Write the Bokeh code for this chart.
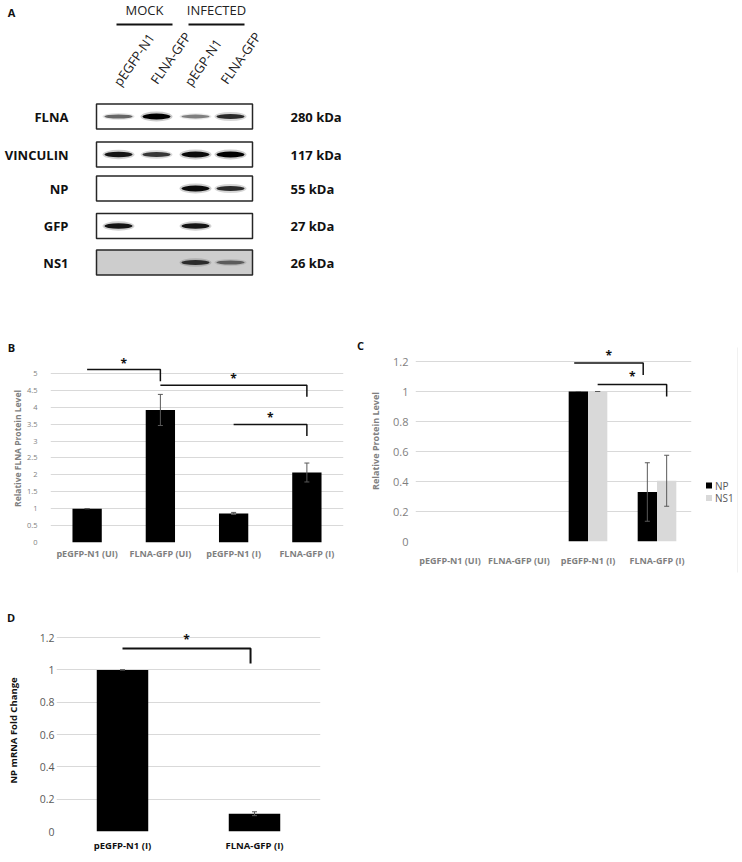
from bokeh.plotting import figure
from bokeh.models import (FactorRange, Range1d, FixedTicker, CustomJSTickFormatter,
                          ColumnDataSource)
from bokeh.transform import dodge
from bokeh.layouts import column, row
from bokeh.embed import file_html
from bokeh.resources import INLINE
from bokeh.core.properties import value

FONT = "Open Sans"

# ---------------- data ----------------
# Panel A (western blot)
groups = ["MOCK", "INFECTED"]
lanes = ["pEGFP-N1", "FLNA-GFP", "pEGP-N1", "FLNA-GFP"]
proteins = ["FLNA", "VINCULIN", "NP", "GFP", "NS1"]
weights = ["280 kDa", "117 kDa", "55 kDa", "27 kDa", "26 kDa"]
band_flna = [0.55, 1.0, 0.45, 0.8]
band_vinculin = [0.9, 0.75, 0.95, 1.0]
band_np = [0.0, 0.0, 0.95, 0.8]
band_gfp = [0.9, 0.0, 0.9, 0.0]
band_ns1 = [0.0, 0.0, 0.75, 0.5]

# Panel B
cats_b = ["pEGFP-N1 (UI)", "FLNA-GFP (UI)", "pEGFP-N1 (I)", "FLNA-GFP (I)"]
flna_level = [1.0, 3.92, 0.86, 2.07]
flna_err = [0.0, 0.46, 0.03, 0.28]
ticks_b = [0, 0.5, 1, 1.5, 2, 2.5, 3, 3.5, 4, 4.5, 5]

# Panel C
cats_c = ["pEGFP-N1 (UI)", "FLNA-GFP (UI)", "pEGFP-N1 (I)", "FLNA-GFP (I)"]
series_c = ["NP", "NS1"]
series_c_colors = ["black", "#d9d9d9"]
np_level = [0.0, 0.0, 1.0, 0.33]
np_err = [0.0, 0.0, 0.0, 0.195]
ns1_level = [0.0, 0.0, 1.0, 0.405]
ns1_err = [0.0, 0.0, 0.0, 0.17]
ticks_c = [0, 0.2, 0.4, 0.6, 0.8, 1, 1.2]

# Panel D
cats_d = ["pEGFP-N1 (I)", "FLNA-GFP (I)"]
mrna_fold = [1.0, 0.11]
mrna_err = [0.0, 0.012]
ticks_d = [0, 0.2, 0.4, 0.6, 0.8, 1, 1.2]

# ---------------- helpers ----------------
GRAY = "#7f7f7f"
GRID = "#d9d9d9"
INK = "#111111"
fmt = CustomJSTickFormatter(code="return String(Math.round(tick*10)/10)")


def canvas_fig(x0, x1, y0, y1):
    p = figure(x_range=Range1d(x0, x1), y_range=Range1d(y1, y0),
               frame_width=x1 - x0, frame_height=y1 - y0,
               min_border=0, min_border_left=0, min_border_right=0,
               min_border_top=0, min_border_bottom=0,
               x_axis_location=None, y_axis_location=None,
               toolbar_location=None, output_backend="svg")
    p.xgrid.grid_line_color = None
    p.ygrid.grid_line_color = None
    p.outline_line_color = None
    return p


def letter(p, txt, x, y):
    p.text(x=[x], y=[y], text=[txt], text_font=value(FONT), text_font_size="11px",
           text_font_style="bold", text_align="center", text_baseline="middle", text_color=INK)


def style_chart(p, ticks, ytick_size, ytick_color, ystand, ylab, ylab_size, ylab_color,
                ylab_stand, xlab_size, xlab_color, xstand):
    p.outline_line_color = None
    p.xgrid.grid_line_color = None
    p.ygrid.grid_line_color = GRID
    p.ygrid.grid_line_width = 1
    p.yaxis.ticker = FixedTicker(ticks=ticks)
    p.yaxis.formatter = fmt
    for ax in (p.xaxis[0], p.yaxis[0]):
        ax.axis_line_color = None
        ax.major_tick_line_color = None
        ax.minor_tick_line_color = None
        ax.major_tick_out = 0
        ax.major_tick_in = 0
    p.yaxis.major_label_text_font = FONT
    p.yaxis.major_label_text_font_size = ytick_size
    p.yaxis.major_label_text_color = ytick_color
    p.yaxis.major_label_standoff = ystand
    p.yaxis.axis_label = ylab
    p.yaxis.axis_label_text_font = FONT
    p.yaxis.axis_label_text_font_size = ylab_size
    p.yaxis.axis_label_text_font_style = "bold"
    p.yaxis.axis_label_text_color = ylab_color
    p.yaxis.axis_label_standoff = ylab_stand
    p.xaxis.major_label_text_font = FONT
    p.xaxis.major_label_text_font_size = xlab_size
    p.xaxis.major_label_text_font_style = "bold"
    p.xaxis.major_label_text_color = xlab_color
    p.xaxis.major_label_standoff = xstand


def errbars(p, xs, vals, errs, color="#595959"):
    xx = [x for x, v in zip(xs, vals) if v > 0]
    lo = [v - e for v, e in zip(vals, errs) if v > 0]
    hi = [v + e for v, e in zip(vals, errs) if v > 0]
    p.segment(x0=xx, y0=lo, x1=xx, y1=hi, line_color=color, line_width=1)
    p.scatter(x=xx + xx, y=lo + hi, marker="dash", size=5, line_color=color, line_width=1)


def bracket(p, x0, x1, h, d, star_y, lw=1.5):
    p.line(x=[x0, x1, x1], y=[h, h, d], line_color=INK, line_width=lw)
    p.text(x=[(x0 + x1) / 2], y=[star_y], text=["*"], text_font=value(FONT),
           text_font_size="12px", text_font_style="bold", text_align="center",
           text_baseline="middle", text_color=INK)

# ---------------- Panel A ----------------
pa = canvas_fig(0, 738, 0, 336)
letter(pa, "A", 11, 11.5)

group_x = [144, 216]
pa.text(x=group_x, y=[9.5, 9.5], text=groups, text_font=value(FONT), text_font_size="13px",
        text_align="center", text_baseline="middle", text_color="#222222")
pa.segment(x0=[gx - 28 for gx in group_x], x1=[gx + 28 for gx in group_x], y0=[24, 24], y1=[24, 24],
           line_color=INK, line_width=2)

lane_x = [118, 156, 195, 230]
lane_label_x = [116, 153, 187, 223]
pa.text(x=lane_label_x, y=[84, 82, 84, 82], text=lanes, angle=0.96, text_font=value(FONT),
        text_font_size="13px", text_align="left", text_baseline="middle", text_color="#222222")

row_y = [116, 154, 188, 225.5, 262]
bands = [band_flna, band_vinculin, band_np, band_gfp, band_ns1]
box_fill = ["white", "white", "white", "white", "#cdcdcd"]
pa.quad(left=[96] * 5, right=[252] * 5, top=[y - 12.5 for y in row_y],
        bottom=[y + 12.5 for y in row_y], fill_color=box_fill, line_color="#262626", line_width=1.5)
bx, by, bw, bh, ba = [], [], [], [], []
for ry, b in zip(row_y, bands):
    for lx, v in zip(lane_x, b):
        if v > 0:
            bx.append(lx); by.append(ry); bw.append(28); bh.append(2.0 + 4.0 * v); ba.append(v)
pa.ellipse(x=bx, y=by, width=[w + 4 for w in bw], height=[h * 1.7 for h in bh],
           fill_color="black", fill_alpha=[a * 0.2 for a in ba], line_color=None)
pa.ellipse(x=bx, y=by, width=bw, height=bh, fill_color="black", fill_alpha=ba, line_color=None)

pa.text(x=[68] * 5, y=row_y, text=proteins, text_font=value(FONT), text_font_size="13px",
        text_font_style="bold", text_align="right", text_baseline="middle", text_color=INK)
pa.text(x=[290] * 5, y=row_y, text=weights, text_font=value(FONT), text_font_size="13px",
        text_font_style="bold", text_align="left", text_baseline="middle", text_color=INK)

# ---------------- Panel B ----------------
sb = canvas_fig(0, 354, 336, 354)
letter(sb, "B", 11, 346.5)

pb = figure(x_range=FactorRange(factors=cats_b), y_range=Range1d(0, 5.56), width=354, height=221,
            min_border_left=50, min_border_right=11, min_border_top=0, min_border_bottom=33,
            toolbar_location=None, output_backend="svg")
style_chart(pb, ticks_b, "7.5px", GRAY, 13, "Relative FLNA Protein Level", "8.5px", GRAY, 1,
            "9px", GRAY, 4)
pb.vbar(x=cats_b, top=flna_level, width=0.4, fill_color="black", line_color=None)
errbars(pb, cats_b, flna_level, flna_err)
bracket(pb, 0.5, 1.5, 5.12, 4.77, 5.29)
bracket(pb, 1.5, 3.5, 4.65, 4.31, 4.85)
bracket(pb, 2.5, 3.5, 3.49, 3.15, 3.70)

# ---------------- Panel C ----------------
sc = canvas_fig(354, 366, 336, 575)
letter(sc, "C", 360, 344.5)

pc = figure(x_range=FactorRange(factors=cats_c), y_range=Range1d(0, 1.34), width=329, height=239,
            min_border_left=47, min_border_right=4, min_border_top=4, min_border_bottom=34,
            toolbar_location=None, output_backend="svg")
style_chart(pc, ticks_c, "11px", GRAY, 7, "Relative Protein Level", "9px", GRAY, 8,
            "9px", GRAY, 12)
src_c = ColumnDataSource(dict(cat=cats_c, np=np_level, ns1=ns1_level))
pc.vbar(x=dodge("cat", -0.14, range=pc.x_range), top="np", width=0.28, source=src_c,
        fill_color=series_c_colors[0], line_color=None)
pc.vbar(x=dodge("cat", 0.14, range=pc.x_range), top="ns1", width=0.28, source=src_c,
        fill_color=series_c_colors[1], line_color=None)
errbars(pc, [i + 0.5 - 0.14 for i in range(4)], np_level, np_err)
errbars(pc, [i + 0.5 + 0.14 for i in range(4)], ns1_level, ns1_err)
bracket(pc, 2.3, 3.3, 1.19, 1.11, 1.24)
bracket(pc, 2.64, 3.64, 1.047, 0.967, 1.10)

# legend for panel C, drawn in its own small canvas to the right of the chart
lc = canvas_fig(695, 738, 336, 575)
leg_y = [485, 497.5]
lc.quad(left=[705.5] * 2, right=[711.5] * 2, top=[y - 3 for y in leg_y], bottom=[y + 3 for y in leg_y],
        fill_color=series_c_colors, line_color=None)
lc.text(x=[714.5] * 2, y=leg_y, text=series_c, text_font=value(FONT), text_font_size="10px",
        text_align="left", text_baseline="middle", text_color="#595959")
lc.segment(x0=[737.5], x1=[737.5], y0=[347], y1=[572], line_color="#e3e3e3", line_width=1)

# ---------------- Panel D ----------------
sd = canvas_fig(0, 340, 575, 626)
letter(sd, "D", 10.5, 616.7)

pd_ = figure(x_range=FactorRange(factors=cats_d), y_range=Range1d(0, 1.25), width=340, height=228,
             min_border_left=56, min_border_right=20, min_border_top=3, min_border_bottom=21,
             toolbar_location=None, output_backend="svg")
style_chart(pd_, ticks_d, "10.5px", "#595959", 2, "NP mRNA Fold Change", "9.5px", INK, 17,
            "9.5px", INK, 7)
pd_.vbar(x=cats_d, top=mrna_fold, width=0.39, fill_color="black", line_color=None)
errbars(pd_, cats_d, mrna_fold, mrna_err)
bracket(pd_, 0.5, 1.47, 1.132, 1.04, 1.19, lw=2)

layout = column(pa,
                row(column(row(sb), pb), column(sc), pc, column(lc)),
                column(row(sd), pd_))
open("out.html", "w").write(file_html(layout, INLINE))
